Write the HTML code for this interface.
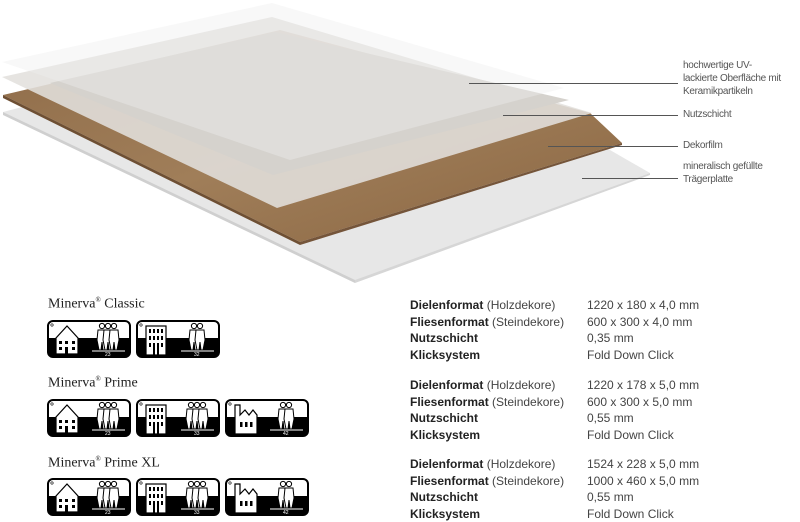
<!DOCTYPE html>
<html><head><meta charset="utf-8"><style>
body{margin:0;width:800px;height:522px;background:#fff;overflow:hidden;position:relative;font-family:"Liberation Sans",sans-serif}
.lab{position:absolute;left:683px;font-size:10px;color:#555;line-height:13px;letter-spacing:-0.3px}
.h{position:absolute;left:48px;font-family:"Liberation Serif",serif;font-size:14px;color:#222}
.h sup{font-size:7px}
.sp{position:absolute;left:410px;font-size:12px;color:#222;line-height:16.5px}
.sp b{font-weight:bold}
.sp span{color:#444}
.v{position:absolute;left:587px;font-size:12px;color:#444;line-height:16.5px}
.ic{position:absolute}
</style></head><body>
<svg width="800" height="290" style="position:absolute;left:0;top:0">
<defs>
<linearGradient id="wd" x1="0" y1="0" x2="1" y2="1">
<stop offset="0" stop-color="#8e6b48"/><stop offset="0.5" stop-color="#a07e59"/><stop offset="1" stop-color="#8a6642"/></linearGradient>
</defs>
<!-- board -->
<polygon points="3,112 280,40 610,150 650,173 355,282" fill="#e7e7e7"/>
<polygon points="3,112 355,280 355,283 3,115" fill="#cfcfcf"/>
<polygon points="355,280 650,173 650,175 355,283" fill="#d6d6d6"/>
<!-- wood -->
<polygon points="3,95 280,30 590,113 622,143 300,242" fill="url(#wd)"/>
<polygon points="3,95 300,242 300,245 3,98" fill="#6e4f33"/>
<polygon points="300,242 622,143 622,145 300,245" fill="#75553a"/>
<!-- nutzschicht -->
<polygon points="2,77 272,17 592,113 277,208" fill="rgba(226,224,221,0.88)"/>
<!-- grey face -->
<polygon points="50,83 275,32 569,100 273,175" fill="#d5d2cd"/>
<!-- top sheet -->
<polygon points="2,62 272,3 564,88 290,160" fill="rgba(238,238,238,0.4)"/>
<g stroke="#555" stroke-width="1">
<line x1="469" y1="83.5" x2="678" y2="83.5"/>
<line x1="503" y1="115.5" x2="678" y2="115.5"/>
<line x1="548" y1="146.5" x2="678" y2="146.5"/>
<line x1="582" y1="178.5" x2="678" y2="178.5"/>
</g>
</svg>
<div class="lab" style="top:59px">hochwertige UV-<br>lackierte Oberfläche mit<br>Keramikpartikeln</div>
<div class="lab" style="top:108px">Nutzschicht</div>
<div class="lab" style="top:139px">Dekorfilm</div>
<div class="lab" style="top:160px">mineralisch gefüllte<br>Trägerplatte</div>

<svg width="0" height="0" style="position:absolute">
<defs>
<g id="fr"><rect x="1" y="1" width="82" height="36" rx="5" fill="#fff" stroke="#000" stroke-width="2"/>
<path d="M1,18 H83 V32 a5,5 0 0 1 -5,5 H6 a5,5 0 0 1 -5,-5 Z" fill="#000"/><circle cx="5" cy="5" r="1.2" fill="none" stroke="#000" stroke-width="0.6"/></g>
<g id="house"><polygon points="9,34 9,18 20,6 31,18 31,34" fill="#fff" stroke="#000" stroke-width="1.2"/>
<rect x="12" y="21" width="3" height="3" fill="#000"/><rect x="18" y="21" width="3" height="3" fill="#000"/><rect x="25" y="21" width="3" height="3" fill="#000"/>
<rect x="12" y="27" width="3" height="3" fill="#000"/><rect x="25" y="27" width="3" height="3" fill="#000"/><rect x="18" y="27" width="3" height="7" fill="#000"/></g>
<g id="bld"><rect x="10" y="6" width="20" height="29" fill="#fff" stroke="#000" stroke-width="1.2"/>
<g fill="#000"><rect x="13" y="9" width="2" height="4"/><rect x="17" y="9" width="2" height="4"/><rect x="21" y="9" width="2" height="4"/><rect x="25" y="9" width="2" height="4"/>
<rect x="13" y="16" width="2" height="4"/><rect x="17" y="16" width="2" height="4"/><rect x="21" y="16" width="2" height="4"/><rect x="25" y="16" width="2" height="4"/>
<rect x="13" y="23" width="2" height="4"/><rect x="17" y="23" width="2" height="12"/><rect x="21" y="23" width="2" height="12"/><rect x="25" y="23" width="2" height="4"/></g></g>
<g id="fac"><path d="M10,35 V6 H15 V16 L20,11 L24,16 L28,11 L32,16 V35 Z" fill="#fff" stroke="#000" stroke-width="1.2"/>
<rect x="15" y="23" width="2.5" height="5" fill="#000"/><rect x="20" y="23" width="2.5" height="5" fill="#000"/><rect x="25" y="23" width="2.5" height="5" fill="#000"/></g>
<g id="p"><circle cx="0" cy="6" r="2.6" fill="#fff" stroke="#000" stroke-width="1"/>
<path d="M-4,10 H4 L5,20 L3,30 H1 L0,22 L-1,30 H-3 L-5,20 Z" fill="#fff" stroke="#000" stroke-width="1"/></g>
</defs></svg>

<div class="h" style="top:296px">Minerva<sup>®</sup> Classic</div>
<div class="h" style="top:375px">Minerva<sup>®</sup> Prime</div>
<div class="h" style="top:455px">Minerva<sup>®</sup> Prime XL</div>

<svg class="ic" style="left:47px;top:320px" width="270" height="40">
<use href="#fr"/><use href="#house"/><use href="#p" x="55"/><use href="#p" x="61"/><use href="#p" x="67"/><line x1="45" y1="31" x2="78" y2="31" stroke="#fff"/><text x="58" y="36" font-size="5" fill="#fff">23</text>
<g transform="translate(89,0)"><use href="#fr"/><use href="#bld"/><use href="#p" x="58"/><use href="#p" x="64"/><line x1="45" y1="31" x2="78" y2="31" stroke="#fff"/><text x="58" y="36" font-size="5" fill="#fff">32</text></g>
</svg>
<svg class="ic" style="left:47px;top:399px" width="270" height="40">
<use href="#fr"/><use href="#house"/><use href="#p" x="55"/><use href="#p" x="61"/><use href="#p" x="67"/><line x1="45" y1="31" x2="78" y2="31" stroke="#fff"/><text x="58" y="36" font-size="5" fill="#fff">23</text>
<g transform="translate(89,0)"><use href="#fr"/><use href="#bld"/><use href="#p" x="55"/><use href="#p" x="61"/><use href="#p" x="67"/><line x1="45" y1="31" x2="78" y2="31" stroke="#fff"/><text x="58" y="36" font-size="5" fill="#fff">33</text></g>
<g transform="translate(178,0)"><use href="#fr"/><use href="#fac"/><use href="#p" x="58"/><use href="#p" x="64"/><line x1="45" y1="31" x2="78" y2="31" stroke="#fff"/><text x="58" y="36" font-size="5" fill="#fff">42</text></g>
</svg>
<svg class="ic" style="left:47px;top:478px" width="270" height="40">
<use href="#fr"/><use href="#house"/><use href="#p" x="55"/><use href="#p" x="61"/><use href="#p" x="67"/><line x1="45" y1="31" x2="78" y2="31" stroke="#fff"/><text x="58" y="36" font-size="5" fill="#fff">23</text>
<g transform="translate(89,0)"><use href="#fr"/><use href="#bld"/><use href="#p" x="55"/><use href="#p" x="61"/><use href="#p" x="67"/><line x1="45" y1="31" x2="78" y2="31" stroke="#fff"/><text x="58" y="36" font-size="5" fill="#fff">33</text></g>
<g transform="translate(178,0)"><use href="#fr"/><use href="#fac"/><use href="#p" x="58"/><use href="#p" x="64"/><line x1="45" y1="31" x2="78" y2="31" stroke="#fff"/><text x="58" y="36" font-size="5" fill="#fff">42</text></g>
</svg>

<div class="sp" style="top:297px"><b>Dielenformat</b> <span>(Holzdekore)</span><br><b>Fliesenformat</b> <span>(Steindekore)</span><br><b>Nutzschicht</b><br><b>Klicksystem</b></div>
<div class="v" style="top:297px">1220 x 180 x 4,0 mm<br>600 x 300 x 4,0 mm<br>0,35 mm<br>Fold Down Click</div>
<div class="sp" style="top:377px"><b>Dielenformat</b> <span>(Holzdekore)</span><br><b>Fliesenformat</b> <span>(Steindekore)</span><br><b>Nutzschicht</b><br><b>Klicksystem</b></div>
<div class="v" style="top:377px">1220 x 178 x 5,0 mm<br>600 x 300 x 5,0 mm<br>0,55 mm<br>Fold Down Click</div>
<div class="sp" style="top:456px"><b>Dielenformat</b> <span>(Holzdekore)</span><br><b>Fliesenformat</b> <span>(Steindekore)</span><br><b>Nutzschicht</b><br><b>Klicksystem</b></div>
<div class="v" style="top:456px">1524 x 228 x 5,0 mm<br>1000 x 460 x 5,0 mm<br>0,55 mm<br>Fold Down Click</div>
</body></html>
